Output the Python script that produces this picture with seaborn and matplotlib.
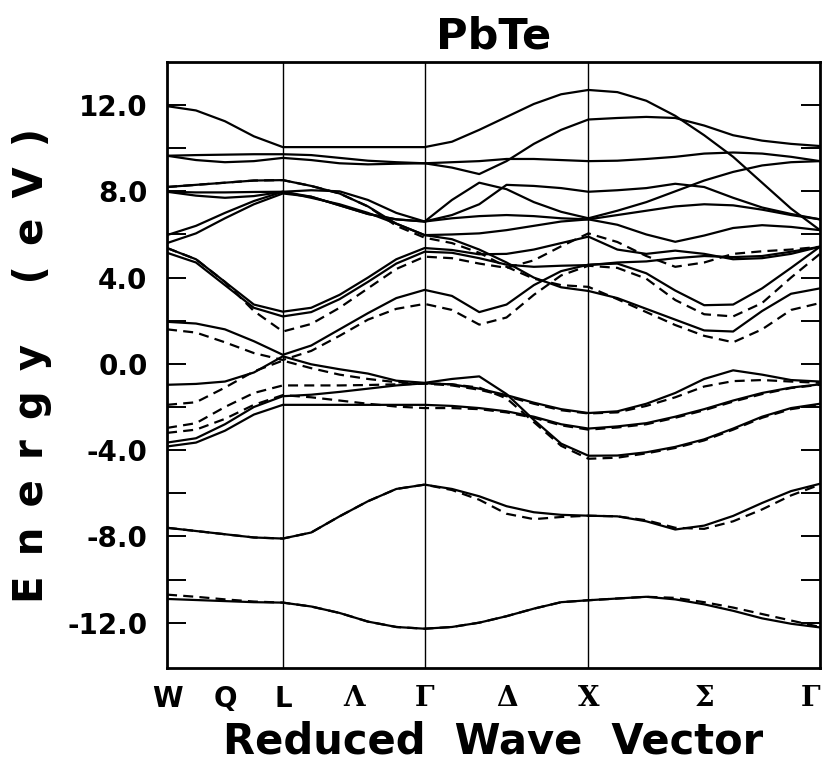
import matplotlib
matplotlib.use("Agg")
import numpy as np
import pandas as pd
import matplotlib.pyplot as plt
import seaborn as sns

# ---------------- data ----------------
# path W-L-Gamma-X-Gamma, segment lengths (2*pi/a units)
seg_lengths = [0.707, 0.866, 1.0, 1.414]
# sampling fractions along each segment
seg_fracs = [[0.0, 0.25, 0.5, 0.75, 1.0],
             [0.2, 0.4, 0.6, 0.8, 1.0],
             [1/6, 2/6, 3/6, 4/6, 5/6, 1.0],
             [1/8, 2/8, 3/8, 4/8, 5/8, 6/8, 7/8, 1.0]]
k_labels = ["W", "Q", "L", "Λ", "Γ", "Δ", "X", "Σ", "Γ"]
y_tick_values = [-12, -8, -4, 0, 4, 8, 12]
y_tick_labels = ["-12.0", "-8.0", "-4.0", "0.0", "4.0", "8.0", "12.0"]

# energies (eV) at the sampled k points (24 points)
s_band   = [-10.9, -10.95, -11.0, -11.05, -11.07, -11.25, -11.55, -11.95, -12.2, -12.28, -12.2, -12.0, -11.7, -11.35, -11.05, -10.96, -10.88, -10.8, -10.92, -11.15, -11.45, -11.8, -12.05, -12.22]
s_band_d = [-10.7, -10.8, -10.92, -11.02, -11.07, -11.25, -11.55, -11.95, -12.2, -12.28, -12.2, -12.0, -11.7, -11.35, -11.05, -10.96, -10.88, -10.8, -10.85, -11.05, -11.3, -11.6, -11.9, -12.2]
b8       = [-7.6, -7.75, -7.9, -8.05, -8.1, -7.82, -7.07, -6.37, -5.8, -5.6, -5.8, -6.14, -6.6, -6.88, -7.0, -7.04, -7.07, -7.3, -7.68, -7.5, -7.05, -6.45, -5.9, -5.56]
b8_d     = [-7.6, -7.75, -7.9, -8.05, -8.1, -7.82, -7.07, -6.37, -5.8, -5.6, -5.85, -6.3, -6.95, -7.2, -7.1, -7.04, -7.07, -7.25, -7.6, -7.65, -7.3, -6.75, -6.1, -5.6]
v1       = [-0.97, -0.93, -0.82, -0.4, 0.35, -0.02, -0.25, -0.45, -0.78, -0.88, -0.7, -0.58, -1.4, -2.6, -3.7, -4.26, -4.25, -4.1, -3.85, -3.5, -3.0, -2.45, -2.05, -1.85]
v1_d     = [-1.9, -1.78, -1.1, -0.35, 0.15, -0.2, -0.5, -0.7, -0.85, -0.9, -0.95, -1.1, -1.6, -2.7, -3.8, -4.4, -4.35, -4.15, -3.9, -3.55, -3.05, -2.5, -2.1, -1.9]
v2       = [-3.65, -3.45, -2.8, -2.0, -1.5, -1.43, -1.3, -1.15, -1.0, -0.9, -0.95, -1.15, -1.45, -1.8, -2.1, -2.28, -2.2, -1.85, -1.35, -0.7, -0.3, -0.5, -0.75, -0.82]
v2_d     = [-2.97, -2.75, -2.0, -1.35, -1.0, -1.0, -1.0, -0.98, -0.95, -0.92, -1.0, -1.2, -1.5, -1.85, -2.15, -2.3, -2.25, -1.95, -1.55, -1.05, -0.8, -0.75, -0.82, -0.88]
v3       = [-3.83, -3.65, -3.1, -2.35, -1.9, -1.9, -1.9, -1.9, -1.9, -1.9, -1.95, -2.05, -2.2, -2.45, -2.8, -3.0, -2.9, -2.75, -2.45, -2.1, -1.7, -1.35, -1.1, -0.95]
v3_d     = [-3.2, -3.05, -2.55, -1.9, -1.45, -1.55, -1.7, -1.85, -1.98, -2.05, -2.05, -2.1, -2.25, -2.5, -2.85, -3.05, -2.95, -2.8, -2.5, -2.15, -1.75, -1.4, -1.12, -0.97]
c1       = [1.95, 1.87, 1.6, 1.05, 0.42, 0.85, 1.6, 2.35, 3.05, 3.43, 3.15, 2.4, 2.75, 3.65, 4.3, 4.6, 4.65, 4.2, 3.4, 2.72, 2.75, 3.5, 4.45, 5.43]
c1_d     = [1.6, 1.45, 1.0, 0.5, 0.18, 0.6, 1.3, 2.05, 2.55, 2.78, 2.5, 1.82, 2.15, 3.2, 4.1, 4.55, 4.45, 3.95, 2.96, 2.3, 2.2, 2.82, 4.0, 5.1]
c2       = [5.37, 4.85, 3.8, 2.75, 2.42, 2.6, 3.2, 4.0, 4.85, 5.37, 5.28, 5.08, 5.1, 5.3, 5.6, 5.9, 5.3, 5.1, 5.25, 5.1, 4.85, 4.9, 5.1, 5.43]
c2b      = [5.15, 4.7, 3.65, 2.6, 2.2, 2.4, 3.0, 3.8, 4.65, 5.2, 5.15, 4.9, 4.6, 4.5, 4.55, 4.58, 4.7, 4.75, 4.9, 5.0, 4.95, 5.0, 5.2, 5.43]
c2_d     = [5.37, 4.85, 3.8, 2.45, 1.5, 1.85, 2.6, 3.5, 4.4, 4.97, 4.9, 4.65, 4.45, 4.8, 5.45, 6.05, 5.65, 5.0, 4.5, 4.7, 5.1, 5.22, 5.3, 5.43]
p1       = [11.95, 11.75, 11.25, 10.55, 10.05, 10.05, 10.05, 10.05, 10.05, 10.05, 10.3, 10.85, 11.45, 12.05, 12.5, 12.7, 12.6, 12.2, 11.5, 10.6, 9.6, 8.4, 7.2, 6.2]
p2       = [9.65, 9.68, 9.7, 9.72, 9.72, 9.68, 9.55, 9.42, 9.35, 9.3, 9.35, 9.4, 9.5, 9.5, 9.45, 9.4, 9.42, 9.5, 9.6, 9.75, 9.8, 9.75, 9.6, 9.4]
p3       = [9.65, 9.45, 9.35, 9.4, 9.55, 9.45, 9.3, 9.25, 9.28, 9.3, 9.1, 8.8, 9.4, 10.2, 10.85, 11.33, 11.4, 11.45, 11.4, 11.05, 10.6, 10.35, 10.2, 10.1]
p4       = [8.2, 8.3, 8.4, 8.5, 8.52, 8.25, 7.9, 7.3, 6.5, 5.97, 5.78, 5.3, 4.7, 4.0, 3.55, 3.38, 3.05, 2.55, 2.05, 1.55, 1.5, 2.45, 3.25, 3.5]
p4_d     = [8.2, 8.3, 8.4, 8.5, 8.52, 8.25, 7.9, 7.3, 6.4, 5.85, 5.6, 5.15, 4.5, 3.95, 3.65, 3.57, 3.0, 2.4, 1.8, 1.3, 1.0, 1.6, 2.5, 2.82]
p5       = [7.98, 7.95, 7.95, 7.97, 7.98, 8.05, 8.0, 7.6, 7.0, 6.6, 7.6, 8.4, 8.1, 7.5, 7.05, 6.75, 7.1, 7.5, 8.0, 8.5, 8.9, 9.2, 9.35, 9.4]
p6       = [7.98, 7.8, 7.7, 7.78, 7.98, 7.75, 7.35, 6.95, 6.7, 6.6, 6.9, 7.4, 8.3, 8.25, 8.15, 7.98, 8.05, 8.15, 8.35, 8.2, 7.7, 7.25, 6.95, 6.7]
p7       = [5.97, 6.4, 7.0, 7.55, 7.98, 7.7, 7.4, 7.0, 6.5, 5.97, 6.0, 6.05, 6.2, 6.4, 6.6, 6.7, 6.9, 7.1, 7.3, 7.4, 7.35, 7.15, 6.9, 6.7]
p8       = [5.6, 6.05, 6.75, 7.4, 7.9, 7.75, 7.35, 6.95, 6.7, 6.6, 6.75, 6.85, 6.9, 6.85, 6.75, 6.7, 6.45, 6.0, 5.66, 5.95, 6.3, 6.43, 6.35, 6.2]

solid_bands = {"s": s_band, "b8": b8, "v1": v1, "v2": v2, "v3": v3, "c1": c1,
               "c2": c2, "c2b": c2b, "p1": p1, "p2": p2, "p3": p3, "p4": p4,
               "p5": p5, "p6": p6, "p7": p7, "p8": p8}
dashed_bands = {"s_d": s_band_d, "b8_d": b8_d, "v1_d": v1_d, "v2_d": v2_d,
                "v3_d": v3_d, "c1_d": c1_d, "c2_d": c2_d, "p4_d": p4_d}

# ---------------- k axis ----------------
vertices = np.concatenate([[0.0], np.cumsum(seg_lengths)])
k = []
for i, fr in enumerate(seg_fracs):
    for f in fr:
        k.append(vertices[i] + f * seg_lengths[i])
k = np.array(k)
mids = (vertices[:-1] + vertices[1:]) / 2
tick_pos = [vertices[0], mids[0], vertices[1], mids[1], vertices[2],
            mids[2], vertices[3], mids[3], vertices[4]]

rows = []
for name, vals in solid_bands.items():
    for kk, e in zip(k, vals):
        rows.append((name, "solid", kk, e))
for name, vals in dashed_bands.items():
    for kk, e in zip(k, vals):
        rows.append((name, "dashed", kk, e))
df = pd.DataFrame(rows, columns=["band", "kind", "k", "E"])

# ---------------- plot ----------------
sns.set_style("white")
plt.rcParams["font.family"] = ["DejaVu Sans"]
plt.rcParams["text.color"] = "black"
plt.rcParams["axes.labelcolor"] = "black"
plt.rcParams["xtick.color"] = "black"
plt.rcParams["ytick.color"] = "black"

fig = plt.figure(figsize=(8.27, 7.74), dpi=100)
ax = fig.add_axes([0.202, 0.137, 0.7895, 0.783])

sns.lineplot(data=df, x="k", y="E", units="band", estimator=None,
             style="kind", style_order=["solid", "dashed"],
             dashes={"solid": "", "dashed": (4.5, 2.8)},
             color="black", linewidth=1.6, legend=False, sort=False, ax=ax)

for v in vertices[1:-1]:
    ax.axvline(v, color="black", lw=1.0, zorder=0)

ax.set_xlim(vertices[0], vertices[-1])
ax.set_ylim(-14.1, 14.0)

ax.set_yticks(y_tick_values)
ax.set_yticklabels(y_tick_labels)
ax.set_yticks(np.arange(-12, 13, 2), minor=True)
ax.tick_params(axis="y", which="both", direction="in", length=14, width=1.4,
               left=True, right=True, labelsize=20, pad=14, colors="black")
for lab in ax.get_yticklabels():
    lab.set_fontweight("bold")

ax.set_xticks(tick_pos)
ax.set_xticklabels(k_labels)
ax.tick_params(axis="x", length=0, pad=12, labelsize=20, colors="black")
xlabs = ax.get_xticklabels()
for i, lab in enumerate(xlabs):
    if k_labels[i] in ("W", "Q", "L"):
        lab.set_fontfamily("DejaVu Sans")
    else:
        lab.set_fontfamily("DejaVu Serif")
    lab.set_fontweight("bold")
xlabs[-1].set_horizontalalignment("right")

for sp in ax.spines.values():
    sp.set_linewidth(2.0)
    sp.set_color("black")

ax.set_xlabel("Reduced  Wave  Vector", fontsize=30, fontweight="bold")
ax.xaxis.set_label_coords(0.5, -0.087)
ylabel_text = "\u2002".join("Energy") + "\u2003\u2002" + "\u2002".join("(eV)")
ax.set_ylabel(ylabel_text, fontsize=29, fontweight="bold")
ax.yaxis.set_label_coords(-0.176, 0.5)
ax.set_title("PbTe", fontsize=31, fontweight="bold", pad=10)

fig.savefig("out.png", dpi=100)
